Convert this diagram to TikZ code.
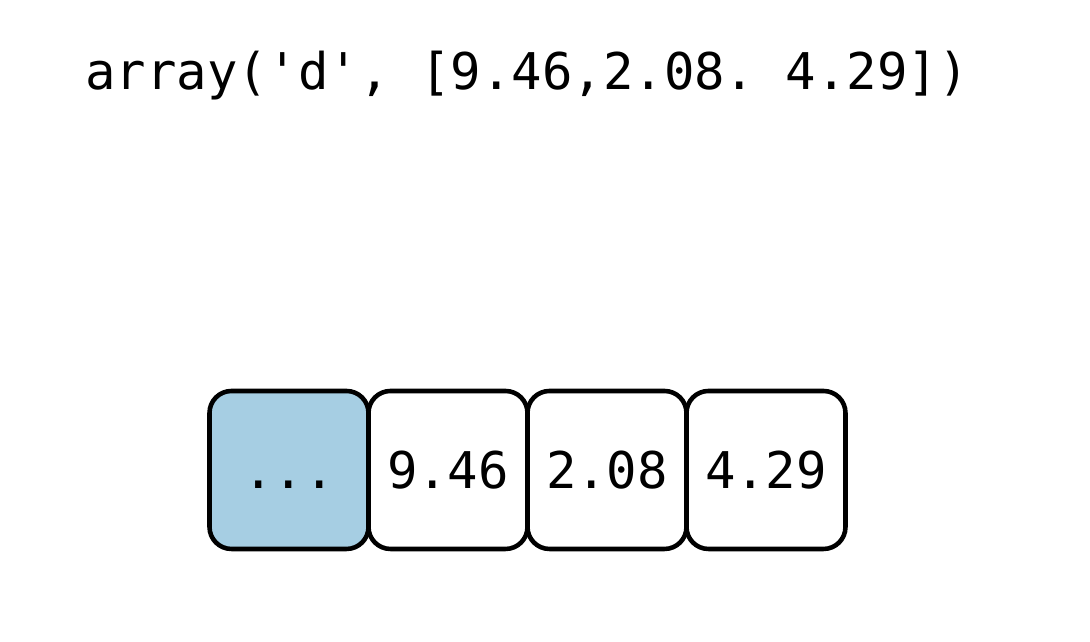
\documentclass[tikz,border=0pt]{standalone}
\usepackage{fontspec}
\setmonofont{DejaVu Sans Mono}
\usepackage{tikz}
\usetikzlibrary{positioning}
\definecolor{cellblue}{HTML}{A6CEE3}
\tikzset{
	cell/.style={draw,line width=1.3pt,rounded corners=0.22cm,fill=white,minimum width=1.59cm,minimum height=1.58cm,font=\ttfamily\fontsize{14.4}{17}\selectfont,inner sep=0pt,text height=10.5pt,text depth=0pt},
	bcell/.style={cell,fill=cellblue}
}

\begin{document}
\begin{tikzpicture}
						\useasboundingbox (0,0) rectangle (10.9,6.42);
						\node [font=\ttfamily\fontsize{14.4}{17}\selectfont] (title) at (5.27,5.66) {array('d', [9.46,2.08. 4.29])};

						\node [bcell] (c0) at (2.89,1.72) {...};
						\node [cell,right=-1.3pt of c0] (c1) {9.46};
						\node [cell,right=-1.3pt of c1] (c2) {2.08};
						\node [cell,right=-1.3pt of c2] (c3) {4.29};
					\end{tikzpicture}
\end{document}
